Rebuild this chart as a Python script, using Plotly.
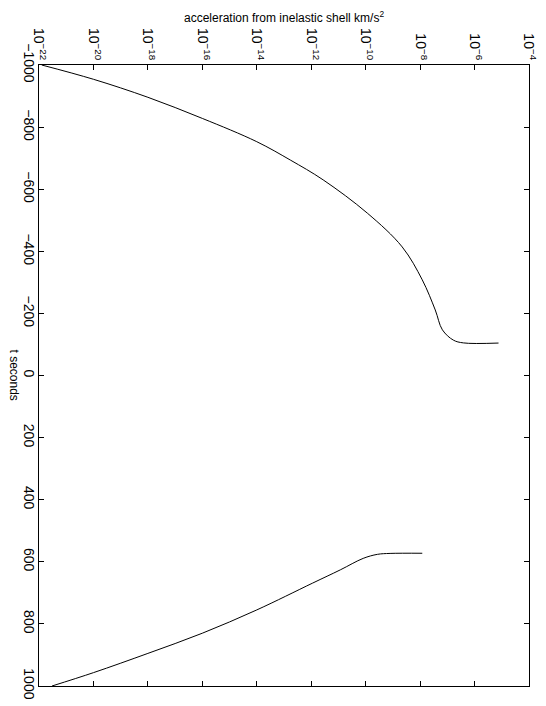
import plotly.graph_objects as go

# branch before the shell (t < 0)
t_before = [-1000, -954, -896, -828, -753, -694, -630, -523, -414, -308, -211, -147, -114, -105, -104.5]
acc_before = [1.26e-22, 1.0e-20, 1.0e-18, 1.0e-16, 1.0e-14, 1.7e-13, 2.75e-12, 1.15e-10,
              2.2e-9, 1.2e-8, 3.6e-8, 6.6e-8, 1.66e-7, 3.9e-7, 7.6e-6]

# branch after the shell (t > 0)
t_after = [572.5, 573, 576, 589, 626, 669, 755, 830, 895, 957, 1000]
acc_after = [1.2e-8, 7.9e-10, 2.7e-10, 8.1e-11, 1.17e-11, 1.1e-12, 1.0e-14, 1.0e-16,
             1.0e-18, 1.0e-20, 3.0e-22]

acc_ticks = [1e-22, 1e-20, 1e-18, 1e-16, 1e-14, 1e-12, 1e-10, 1e-8, 1e-6, 1e-4]
acc_tick_text = ["10<sup>−22</sup>", "10<sup>−20</sup>", "10<sup>−18</sup>", "10<sup>−16</sup>",
                 "10<sup>−14</sup>", "10<sup>−12</sup>", "10<sup>−10</sup>", "10<sup>−8</sup>",
                 "10<sup>−6</sup>", "10<sup>−4</sup>"]
t_ticks = [-1000, -800, -600, -400, -200, 0, 200, 400, 600, 800, 1000]

FONT = "Liberation Sans, Arial, sans-serif"

fig = go.Figure()
for t, a in [(t_before, acc_before), (t_after, acc_after)]:
    fig.add_trace(go.Scatter(
        x=a, y=t, mode="lines",
        line=dict(color="black", width=1, shape="spline", smoothing=1.0),
        showlegend=False, hoverinfo="skip",
    ))

# the page body adds an 8px margin, so the figure is 8px smaller than the window
fig.update_layout(
    width=538, height=698,
    margin=dict(l=31, r=17, t=57, b=20),
    paper_bgcolor="white", plot_bgcolor="white",
    font=dict(family=FONT, size=12, color="black"),
    xaxis=dict(
        type="log", range=[-22, -4], side="top", automargin=False,
        tickvals=acc_ticks, ticktext=acc_tick_text, tickangle=90,
        tickfont=dict(size=14), ticklabelstandoff=-1,
        ticks="inside", ticklen=5, tickcolor="black",
        showline=True, linecolor="black", linewidth=1, mirror="allticks",
        showgrid=False, zeroline=False,
    ),
    yaxis=dict(
        range=[1000, -1000], tickvals=t_ticks, tickangle=90, automargin=False,
        tickfont=dict(size=14), ticklabelstandoff=-3,
        ticks="inside", ticklen=5, tickcolor="black",
        showline=True, linecolor="black", linewidth=1, mirror="allticks",
        showgrid=False, zeroline=False,
    ),
    annotations=[
        dict(text="acceleration from inelastic shell km/s<sup>2</sup>",
             xref="paper", yref="paper", x=0.5, y=1.078,
             xanchor="center", yanchor="middle", showarrow=False,
             font=dict(family=FONT, size=12)),
        dict(text="t seconds", textangle=90,
             xref="paper", yref="paper", x=-0.049, y=0.5,
             xanchor="center", yanchor="middle", showarrow=False,
             font=dict(family=FONT, size=12)),
    ],
)

fig.write_html("out.html")
